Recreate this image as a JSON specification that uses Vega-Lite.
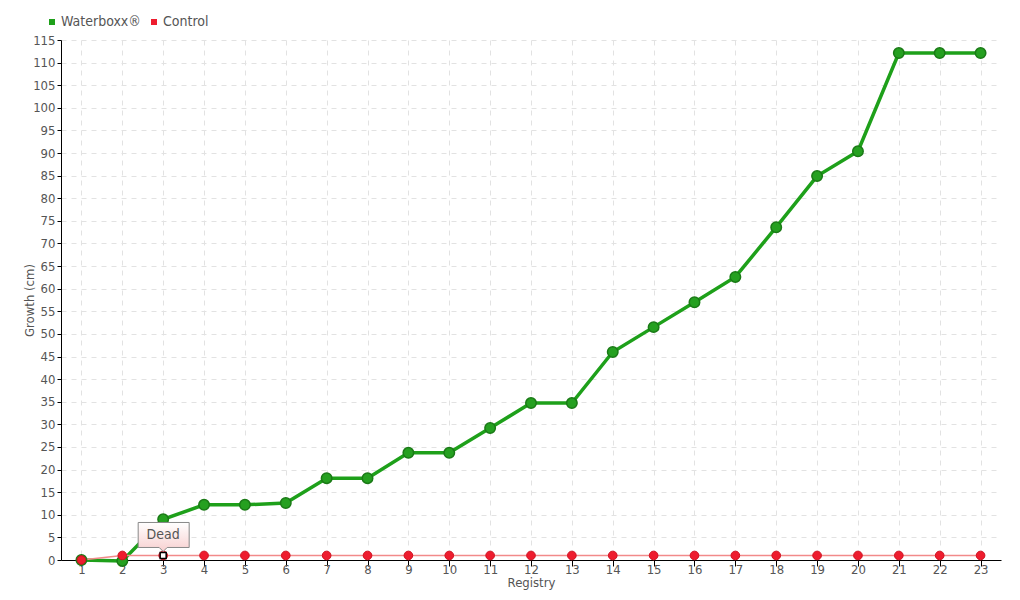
{
  "$schema": "https://vega.github.io/schema/vega-lite/v6.json",
  "width": 940,
  "height": 520,
  "autosize": {"type": "none"},
  "padding": {"left": 61, "top": 40, "right": 19, "bottom": 40},
  "background": "white",
  "config": {
    "font": "'DejaVu Sans Condensed', 'Liberation Sans Narrow', sans-serif",
    "view": {"stroke": null},
    "axis": {
      "labelFont": "'DejaVu Sans Condensed', 'Liberation Sans Narrow', sans-serif",
      "titleFont": "'DejaVu Sans Condensed', 'Liberation Sans Narrow', sans-serif",
      "labelColor": "#555555",
      "titleColor": "#555555",
      "labelFontSize": 13,
      "titleFontSize": 13,
      "titleFontWeight": "normal",
      "domainColor": "#000000",
      "tickColor": "#000000",
      "gridColor": "#e2e2e2",
      "gridDash": [5, 5],
      "gridWidth": 1
    }
  },
  "datasets": {
    "growth": [
      {"registry": 1, "series": "Waterboxx®", "growth": 0},
      {"registry": 2, "series": "Waterboxx®", "growth": -0.2},
      {"registry": 3, "series": "Waterboxx®", "growth": 9},
      {"registry": 4, "series": "Waterboxx®", "growth": 12.2},
      {"registry": 5, "series": "Waterboxx®", "growth": 12.2},
      {"registry": 6, "series": "Waterboxx®", "growth": 12.6},
      {"registry": 7, "series": "Waterboxx®", "growth": 18.1},
      {"registry": 8, "series": "Waterboxx®", "growth": 18.1},
      {"registry": 9, "series": "Waterboxx®", "growth": 23.7},
      {"registry": 10, "series": "Waterboxx®", "growth": 23.7},
      {"registry": 11, "series": "Waterboxx®", "growth": 29.2},
      {"registry": 12, "series": "Waterboxx®", "growth": 34.7},
      {"registry": 13, "series": "Waterboxx®", "growth": 34.7},
      {"registry": 14, "series": "Waterboxx®", "growth": 46},
      {"registry": 15, "series": "Waterboxx®", "growth": 51.5},
      {"registry": 16, "series": "Waterboxx®", "growth": 57},
      {"registry": 17, "series": "Waterboxx®", "growth": 62.6},
      {"registry": 18, "series": "Waterboxx®", "growth": 73.6},
      {"registry": 19, "series": "Waterboxx®", "growth": 84.9},
      {"registry": 20, "series": "Waterboxx®", "growth": 90.4},
      {"registry": 21, "series": "Waterboxx®", "growth": 112.1},
      {"registry": 22, "series": "Waterboxx®", "growth": 112.1},
      {"registry": 23, "series": "Waterboxx®", "growth": 112.1},
      {"registry": 1, "series": "Control", "growth": 0},
      {"registry": 2, "series": "Control", "growth": 1},
      {"registry": 3, "series": "Control", "growth": 1},
      {"registry": 4, "series": "Control", "growth": 1},
      {"registry": 5, "series": "Control", "growth": 1},
      {"registry": 6, "series": "Control", "growth": 1},
      {"registry": 7, "series": "Control", "growth": 1},
      {"registry": 8, "series": "Control", "growth": 1},
      {"registry": 9, "series": "Control", "growth": 1},
      {"registry": 10, "series": "Control", "growth": 1},
      {"registry": 11, "series": "Control", "growth": 1},
      {"registry": 12, "series": "Control", "growth": 1},
      {"registry": 13, "series": "Control", "growth": 1},
      {"registry": 14, "series": "Control", "growth": 1},
      {"registry": 15, "series": "Control", "growth": 1},
      {"registry": 16, "series": "Control", "growth": 1},
      {"registry": 17, "series": "Control", "growth": 1},
      {"registry": 18, "series": "Control", "growth": 1},
      {"registry": 19, "series": "Control", "growth": 1},
      {"registry": 20, "series": "Control", "growth": 1},
      {"registry": 21, "series": "Control", "growth": 1},
      {"registry": 22, "series": "Control", "growth": 1},
      {"registry": 23, "series": "Control", "growth": 1}
    ],
    "notes": [
      {"registry": 3, "growth": 1, "note": "Dead"}
    ]
  },
  "encoding": {
    "x": {
      "field": "registry",
      "type": "ordinal",
      "scale": {"type": "point", "padding": 0.5},
      "axis": {"title": "Registry", "labelAngle": 0, "grid": true, "tickSize": 6, "labelPadding": -3, "titlePadding": 0}
    },
    "y": {
      "field": "growth",
      "type": "quantitative",
      "scale": {"domain": [0, 115], "nice": false, "zero": true},
      "axis": {"title": "Growth (cm)", "values": [0,5,10,15,20,25,30,35,40,45,50,55,60,65,70,75,80,85,90,95,100,105,110,115], "grid": true, "tickSize": 4, "labelPadding": 2, "titlePadding": -4}
    }
  },
  "layer": [
    {
      "data": {"name": "growth"},
      "transform": [{"filter": "datum.series === 'Waterboxx®'"}],
      "mark": {"type": "line", "color": "#1ea01a", "strokeWidth": 3.5},
      "encoding": {}
    },
    {
      "data": {"name": "growth"},
      "transform": [{"filter": "datum.series === 'Control'"}],
      "mark": {"type": "line", "color": "#f28a8a", "strokeWidth": 1.5},
      "encoding": {}
    },
    {
      "data": {"name": "growth"},
      "transform": [{"filter": "datum.series === 'Waterboxx®'"}],
      "mark": {"type": "point", "filled": true, "size": 110, "opacity": 1, "fill": "#25a020", "stroke": "#1a7a16", "strokeWidth": 1.5},
      "encoding": {}
    },
    {
      "data": {"name": "growth"},
      "transform": [{"filter": "datum.series === 'Control'"}],
      "mark": {"type": "point", "filled": true, "size": 75, "opacity": 1, "fill": "#ee1c2e", "stroke": "#d01020", "strokeWidth": 1},
      "encoding": {
        "fill": {
          "field": "series",
          "type": "nominal",
          "scale": {"domain": ["Waterboxx®", "Control"], "range": ["#1ea01a", "#ee1c2e"]},
          "legend": {
            "title": null,
            "orient": "none",
            "direction": "horizontal",
            "legendX": -16,
            "legendY": -25,
            "symbolType": "square",
            "symbolSize": 36,
            "symbolStrokeWidth": 0,
            "labelFontSize": 14,
            "labelColor": "#555555",
            "labelFont": "'DejaVu Sans Condensed', 'Liberation Sans Narrow', sans-serif",
            "columnPadding": 6,
            "labelOffset": 2
          }
        }
      }
    },
    {
      "data": {"name": "notes"},
      "mark": {"type": "point", "shape": "square", "filled": true, "size": 36, "opacity": 1, "fill": "white", "stroke": "black", "strokeWidth": 1.5},
      "encoding": {}
    },
    {
      "data": {"name": "notes"},
      "mark": {
        "type": "point",
        "shape": "M-0.625,-0.825 L0.65,-0.825 L0.65,-0.2 L0.1,-0.2 L0,-0.1 L-0.1,-0.2 L-0.625,-0.2 Z",
        "size": 6400,
        "filled": true,
        "opacity": 1,
        "fill": {"gradient": "linear", "x1": 0, "y1": 0, "x2": 0, "y2": 1, "stops": [{"offset": 0, "color": "#ffffff"}, {"offset": 1, "color": "#f8d0d0"}]},
        "stroke": "#888888",
        "strokeWidth": 1
      },
      "encoding": {}
    },
    {
      "data": {"name": "notes"},
      "mark": {"type": "text", "dy": -20, "dx": 0, "fontSize": 14, "color": "#555555", "font": "'DejaVu Sans Condensed', 'Liberation Sans Narrow', sans-serif"},
      "encoding": {"text": {"field": "note"}}
    }
  ]
}
